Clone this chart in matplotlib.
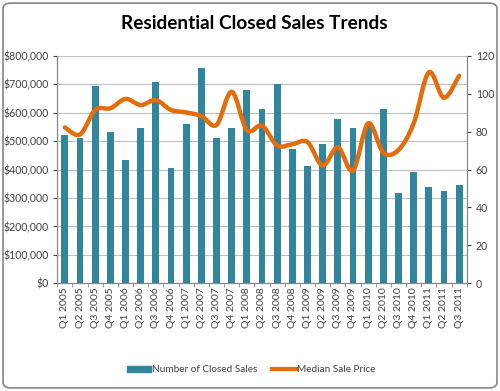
import numpy as np
import matplotlib.pyplot as plt
from matplotlib.path import Path
from matplotlib.patches import PathPatch, FancyBboxPatch
from matplotlib.lines import Line2D
from matplotlib.ticker import FuncFormatter

plt.rcParams['font.family'] = ['Lato', 'DejaVu Sans']

quarters = ['Q1 2005', 'Q2 2005', 'Q3 2005', 'Q4 2005', 'Q1 2006', 'Q2 2006', 'Q3 2006',
            'Q4 2006', 'Q1 2007', 'Q2 2007', 'Q3 2007', 'Q4 2007', 'Q1 2008', 'Q2 2008',
            'Q3 2008', 'Q4 2008', 'Q1 2009', 'Q2 2009', 'Q3 2009', 'Q4 2009', 'Q1 2010',
            'Q2 2010', 'Q3 2010', 'Q4 2010', 'Q1 2011', 'Q2 2011', 'Q3 2011']

# bars, read against the left ($) axis
closed_sales = [520000, 512000, 693000, 532000, 433000, 547000, 706000, 406000, 560000,
                758000, 512000, 547000, 678000, 611000, 699000, 473000, 412000, 491000,
                579000, 546000, 558000, 611000, 318000, 391000, 339000, 324000, 344000]

# line, read against the right axis
median_price = [82.2, 78.5, 91.4, 92.3, 97.2, 94.0, 96.6, 91.4, 90.1, 88.2, 83.5, 101.0,
                80.8, 83.1, 72.7, 73.3, 74.5, 62.0, 71.7, 59.4, 84.3, 68.9, 70.3, 84.3,
                111.2, 97.8, 109.4]

bar_color = '#31859C'
line_color = '#E46C0A'
text_color = '#404040'
grid_color = '#BFBFBF'

fig = plt.figure(figsize=(5, 3.91), dpi=100)
ax = fig.add_axes([0.1146, 0.2754, 0.8188, 0.5821])
ax2 = ax.twinx()

x = np.arange(len(quarters))
ax.bar(x, closed_sales, width=0.45, color=bar_color, zorder=2)

ax.set_xlim(-0.5, len(quarters) - 0.5)
ax.set_ylim(0, 800000)
ax.set_yticks(np.arange(0, 800001, 100000))
ax.yaxis.set_major_formatter(FuncFormatter(lambda v, p: '${:,.0f}'.format(v)))
ax.grid(axis='y', color=grid_color, lw=0.8, zorder=0)
ax.set_axisbelow(True)

ax.set_xticks(x)
ax.set_xticklabels(quarters, rotation=90, fontsize=7.5, color=text_color)
ax.set_xticks(np.arange(-0.5, len(quarters), 1), minor=True)
ax.tick_params(axis='x', which='major', length=0, pad=3)
ax.tick_params(axis='x', which='minor', length=3, color='#868686')
ax.tick_params(axis='y', labelsize=7.6, colors=text_color, length=3)

ax2.set_ylim(0, 120)
ax2.set_yticks(np.arange(0, 121, 20))
ax2.tick_params(axis='y', labelsize=7.6, colors=text_color, length=3)

for a in (ax, ax2):
    a.spines['top'].set_visible(False)
    for s in ('left', 'right', 'bottom'):
        a.spines[s].set_color('#868686')
        a.spines[s].set_linewidth(0.8)

# smoothed line (Catmull-Rom style bezier through the data points, like Excel)
pts = np.column_stack([x, median_price])
verts = [pts[0]]
codes = [Path.MOVETO]
n = len(pts)
for i in range(n - 1):
    p0 = pts[i - 1] if i > 0 else pts[i]
    p1 = pts[i]
    p2 = pts[i + 1]
    p3 = pts[i + 2] if i + 2 < n else pts[i + 1]
    c1 = p1 + (p2 - p0) / 6.0
    c2 = p2 - (p3 - p1) / 6.0
    verts += [c1, c2, p2]
    codes += [Path.CURVE4] * 3
ax2.add_patch(PathPatch(Path(verts, codes), facecolor='none', edgecolor=line_color,
                        lw=3.2, capstyle='round', joinstyle='round', zorder=3))

fig.text(0.508, 0.94, 'Residential Closed Sales Trends', ha='center', va='center',
         fontsize=13.7, fontweight='bold', color='black')

handles = [plt.Rectangle((0, 0), 1, 1, color=bar_color),
           Line2D([0], [0], color=line_color, lw=3)]
fig.legend(handles, ['Number of Closed Sales', 'Median Sale Price'], loc='center',
           bbox_to_anchor=(0.502, 0.054), ncol=2, frameon=False, fontsize=7.2,
           handlelength=2.4, handleheight=0.5, columnspacing=1.5, handletextpad=0.1,
           labelcolor=text_color)

border = FancyBboxPatch((0.006, 0.008), 0.988, 0.984, boxstyle='round,pad=0,rounding_size=0.015',
                        transform=fig.transFigure, facecolor='none', edgecolor='#868686', lw=1.2)
fig.patches.append(border)

fig.savefig('out.png', dpi=100)
